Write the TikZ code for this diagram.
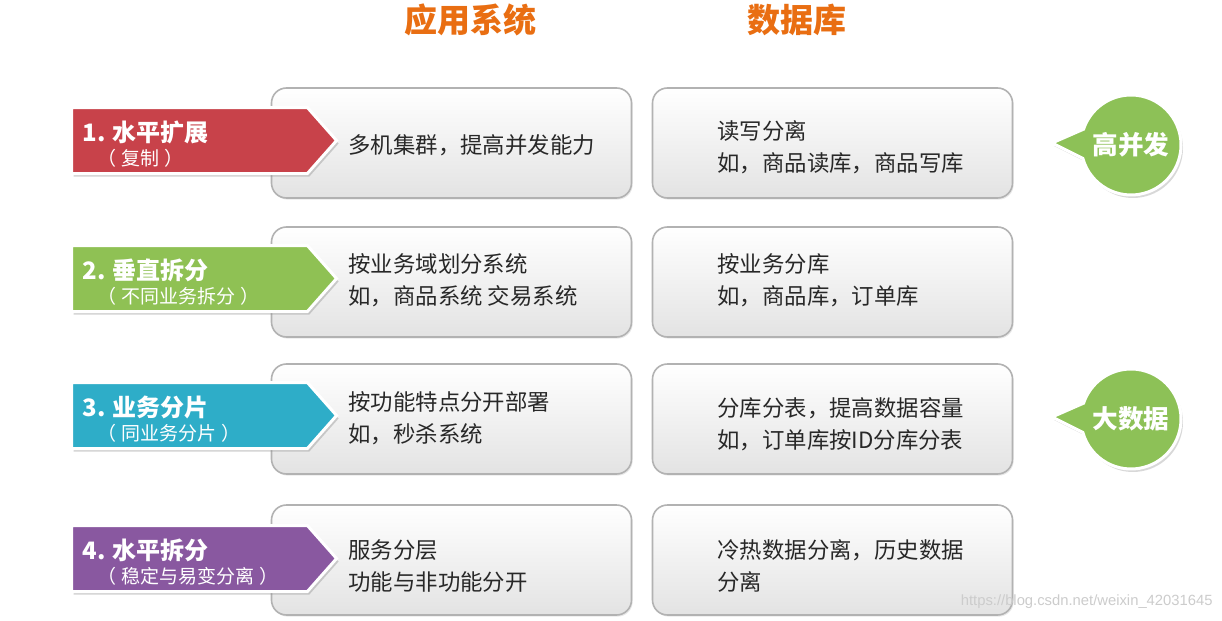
\documentclass[tikz,border=0pt]{standalone}
\usepackage{fontspec}
\setmainfont{Noto Sans CJK SC}
\newfontfamily\markfont{Liberation Sans}
\usetikzlibrary{shapes.symbols,shapes.callouts,shadows}
\definecolor{titleorange}{RGB}{233,110,18}
\definecolor{hred}{RGB}{200,66,74}
\definecolor{vgreen}{RGB}{143,193,84}
\definecolor{bteal}{RGB}{46,173,200}
\definecolor{hpurple}{RGB}{137,88,160}
\definecolor{bubblegreen}{RGB}{141,193,87}
\definecolor{textgrey}{RGB}{40,40,40}
\begin{document}
\begin{tikzpicture}[x=0.5pt,y=-0.5pt,
  coltitle/.style={inner sep=0pt, text=titleorange, font=\bfseries\fontsize{16.5}{19}\selectfont},
  greybox/.style={rounded corners=7.5pt, draw=black!30, line width=0.8pt, top color=white, bottom color=black!11, minimum width=180pt, minimum height=55pt, drop shadow={shadow xshift=0.6pt, shadow yshift=-0.8pt, opacity=0.18}},
  boxlines/.style={anchor=west, inner sep=0pt, align=left, text=textgrey, font=\fontsize{11.2}{16}\selectfont},
  tagarrow/.style={signal, signal to=east, signal pointer angle=97, minimum width=132.5pt, minimum height=33pt, inner sep=0pt, draw=white, line width=1.5pt, drop shadow={shadow xshift=1pt, shadow yshift=-1.5pt, opacity=0.35}},
  tagtitle/.style={anchor=west, inner sep=0pt, text=white, font=\bfseries\fontsize{12}{14}\selectfont},
  tagsub/.style={anchor=west, inner sep=0pt, text=white, font=\fontsize{9.5}{11}\selectfont},
  bubble/.style={ellipse callout, callout pointer arc=34, minimum size=50pt, inner sep=0pt, fill=bubblegreen, draw=white, line width=1.5pt, drop shadow={shadow xshift=1pt, shadow yshift=-1.5pt, opacity=0.3}},
  bubbletext/.style={inner sep=0pt, text=white, font=\bfseries\fontsize{12.8}{15}\selectfont}]
\fill[white] (0,0) rectangle (1222,621);
\useasboundingbox (0,0) rectangle (1222,621);
\node[coltitle] (apptitle) at (470,20) {应用系统};
\node[coltitle] (dbtitle) at (797,20) {数据库};
\node[greybox] (app1) at (451.5,143) {};
\node[greybox] (app2) at (451.5,282) {};
\node[greybox] (app3) at (451.5,419) {};
\node[greybox] (app4) at (451.5,560) {};
\node[greybox] (db1) at (832.5,143) {};
\node[greybox] (db2) at (832.5,282) {};
\node[greybox] (db3) at (832.5,419) {};
\node[greybox] (db4) at (832.5,560) {};
\node[boxlines] (app1t) at (348,145) {多机集群，提高并发能力};
\node[boxlines] (app2t) at (348,280) {按业务域划分系统\\如，商品系统 交易系统};
\node[boxlines] (app3t) at (348,418) {按功能特点分开部署\\如，秒杀系统};
\node[boxlines] (app4t) at (348,566) {服务分层\\功能与非功能分开};
\node[boxlines] (db1t) at (717,147) {读写分离\\如，商品读库，商品写库};
\node[boxlines] (db2t) at (717,280) {按业务分库\\如，商品库，订单库};
\node[boxlines] (db3t) at (717,424) {分库分表，提高数据容量\\如，订单库按ID分库分表};
\node[boxlines] (db4t) at (717,566) {冷热数据分离，历史数据\\分离};
\node[tagarrow, fill=hred] (tag1) at (189.5,140.5) {};
\node[tagtitle] (tag1t) at (82,132) {1. 水平扩展};
\node[tagsub] (tag1s) at (97,158) {（\hspace{2.5pt}复制\hspace{2.5pt}）};
\node[tagarrow, fill=vgreen] (tag2) at (189.5,278.5) {};
\node[tagtitle] (tag2t) at (82,270) {2. 垂直拆分};
\node[tagsub] (tag2s) at (97,296) {（\hspace{2.5pt}不同业务拆分\hspace{2.5pt}）};
\node[tagarrow, fill=bteal] (tag3) at (189.5,415.5) {};
\node[tagtitle] (tag3t) at (82,407) {3. 业务分片};
\node[tagsub] (tag3s) at (97,433) {（\hspace{2.5pt}同业务分片\hspace{2.5pt}）};
\node[tagarrow, fill=hpurple] (tag4) at (189.5,558.5) {};
\node[tagtitle] (tag4t) at (82,550) {4. 水平拆分};
\node[tagsub] (tag4s) at (97,576) {（\hspace{2.5pt}稳定与易变分离\hspace{2.5pt}）};
\coordinate (hiTip) at (1052,143);
\coordinate (bigTip) at (1052,417);
\node[bubble, callout absolute pointer=(hiTip)] (hi) at (1131,145) {};
\node[bubbletext] (hit) at (hi) {高并发};
\node[bubble, callout absolute pointer=(bigTip)] (big) at (1131,419) {};
\node[bubbletext] (bigt) at (big) {大数据};
\node[anchor=east, inner sep=0pt, text=black!20, font=\markfont\fontsize{7.4}{9}\selectfont] (csdnmark) at (1213,602) {https://blog.csdn.net/weixin\_42031645};
\end{tikzpicture}
\end{document}
